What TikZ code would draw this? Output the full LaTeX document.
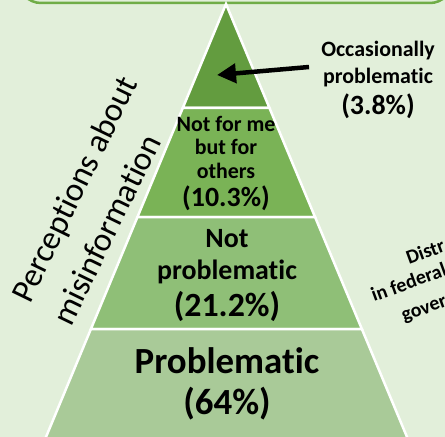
\documentclass[tikz,border=0pt]{standalone}
\usepackage{fontspec}
\setmainfont{Carlito}[Ligatures=NoCommon]
\usetikzlibrary{calc,arrows.meta}
\definecolor{bgGreen}{HTML}{E2EFDA}
\definecolor{frameGreen}{HTML}{70AD47}
\definecolor{layA}{HTML}{639C3F}
\definecolor{layB}{HTML}{7AB356}
\definecolor{layC}{HTML}{8FBF77}
\definecolor{layD}{HTML}{A9CA98}
\newcommand{\tightlines}{\lineskiplimit=-50bp\relax}

\begin{document}
\begin{tikzpicture}[x=1bp,y=-1bp,
  layer/.style={draw=white,line width=2.5bp},
  lbl/.style={align=center,inner sep=0pt},
  slant/.style={rotate=64,anchor=base west,inner sep=0pt,font=\fontsize{33.5}{40}\selectfont},
  tilt/.style={rotate=20,anchor=base west,inner sep=0pt,font=\fontsize{20}{22}\selectfont\bfseries},
  pointer/.style={line width=4.5bp,-{Triangle[length=19bp,width=19bp]}}]
\useasboundingbox (0,0) rectangle (445,437);
\clip (0,0) rectangle (445,437);
\fill[bgGreen] (0,0) rectangle (445,437);
\draw[frameGreen,line width=2.5bp,rounded corners=22bp] (19,-80) rectangle (452,3);
% pyramid
\coordinate (apex) at (226,4);
\coordinate (bl) at (46,437);
\coordinate (br) at (407,437);
\foreach \a/\b/\col in {0/.24/layA,.24/.492/layB,.492/.751/layC,.751/1.02/layD}
  \draw[layer,fill=\col] ($(apex)!\a!(bl)$) -- ($(apex)!\b!(bl)$)
    -- ($(apex)!\b!(br)$) -- ($(apex)!\a!(br)$) -- cycle;
\node[lbl,font=\fontsize{22}{23.5}\selectfont\bfseries\tightlines] (others)
  at (226,163.5) {Not for me\\but for\\others\\[5bp]{\fontsize{28}{30}\selectfont (10.3\%)}};
\node[lbl,font=\fontsize{28}{33}\selectfont\bfseries\tightlines] (notprob)
  at (227,275.5) {Not\\problematic\\[4bp]{\fontsize{34}{36}\selectfont (21.2\%)}};
\node[lbl,font=\fontsize{37}{41}\selectfont\bfseries\tightlines] (prob)
  at (227,384) {Problematic\\(64\%)};
% labels outside
\node[lbl,font=\fontsize{22}{27}\selectfont\bfseries\tightlines] (occ)
  at (378,80) {Occasionally\\problematic\\[4bp]{\fontsize{28}{30}\selectfont (3.8\%)}};
\coordinate (top) at (217,75);
\draw[pointer] ([shift={(-12,-13)}]occ.west) -- (top);
\node[slant] (percepA) at (30,305) {Perceptions about};
\node[slant] (percepB) at (71,328) {misinformation};
\node[tilt] (distrA) at (409,265) {Distr};
\node[tilt] (distrB) at (374,302) {in federal};
\node[tilt] (distrC) at (404,322) {gover};
\end{tikzpicture}
\end{document}
